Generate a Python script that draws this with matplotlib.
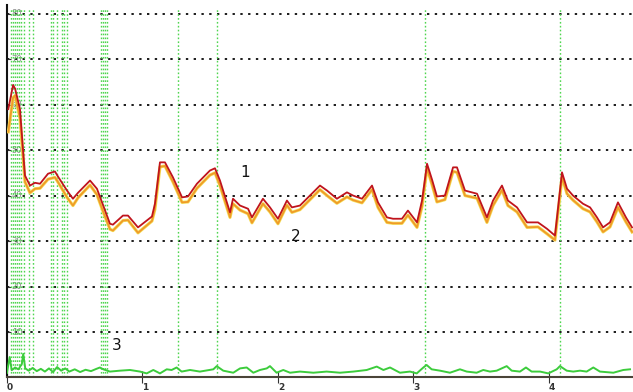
import matplotlib.pyplot as plt
from matplotlib import patheffects

# time axis (s) shared by traces 1 and 2
t = [0.010, 0.045, 0.060, 0.096, 0.133, 0.170, 0.207, 0.244, 0.303, 0.354,
     0.376, 0.443, 0.487, 0.524, 0.613, 0.664, 0.708, 0.760, 0.782, 0.856,
     0.893, 0.967, 1.070, 1.092, 1.129, 1.166, 1.225, 1.292, 1.336, 1.402,
     1.498, 1.535, 1.572, 1.646, 1.668, 1.720, 1.779, 1.808, 1.889, 1.941,
     2.000, 2.066, 2.103, 2.162, 2.236, 2.310, 2.362, 2.435, 2.509, 2.554,
     2.620, 2.694, 2.738, 2.804, 2.849, 2.915, 2.959, 3.026, 3.063, 3.100,
     3.137, 3.173, 3.232, 3.292, 3.321, 3.380, 3.469, 3.542, 3.587, 3.653,
     3.697, 3.764, 3.838, 3.919, 3.985, 4.044, 4.096, 4.133, 4.177, 4.251,
     4.303, 4.354, 4.399, 4.450, 4.509, 4.568, 4.613]

trace1 = [59.0, 64.3, 63.5, 59.0, 44.4, 42.2, 42.8, 42.6, 44.8, 45.3,
          44.2, 41.1, 39.3, 40.6, 43.3, 41.5, 38.0, 33.8, 33.6, 35.6,
          35.6, 33.0, 35.4, 38.2, 47.3, 47.3, 44.0, 39.6, 39.8, 42.6,
          45.5, 46.0, 43.3, 36.3, 39.3, 37.8, 37.1, 35.2, 39.3, 37.4,
          34.9, 38.9, 37.4, 37.8, 40.0, 42.2, 41.1, 39.3, 40.7, 40.0,
          39.3, 42.2, 38.5, 35.2, 34.9, 34.9, 36.7, 34.1, 38.9, 47.0,
          43.5, 39.8, 40.0, 46.2, 46.2, 41.1, 40.4, 35.2, 38.9, 42.2,
          38.9, 37.4, 34.1, 34.1, 32.7, 31.2, 45.1, 41.5, 40.0, 38.2,
          37.4, 35.2, 33.0, 34.1, 38.5, 35.2, 33.0]

trace2 = [54.0, 61.5, 62.0, 57.0, 43.0, 40.6, 41.5, 41.6, 43.6, 44.0,
          43.0, 39.6, 37.8, 39.5, 42.3, 40.2, 36.6, 32.6, 32.3, 34.5,
          34.6, 31.8, 34.4, 37.0, 46.3, 46.5, 43.0, 38.5, 38.6, 41.6,
          44.5, 45.0, 42.2, 35.2, 38.2, 36.8, 36.0, 34.0, 38.2, 36.4,
          33.8, 37.9, 36.3, 36.9, 39.1, 41.3, 40.0, 38.3, 39.7, 39.0,
          38.4, 41.3, 37.4, 34.1, 33.9, 33.9, 35.7, 33.0, 37.6, 46.0,
          42.4, 38.6, 39.1, 45.3, 45.1, 40.0, 39.4, 34.1, 37.8, 41.2,
          37.8, 36.4, 33.0, 33.1, 31.6, 30.2, 44.0, 40.4, 39.0, 37.1,
          36.4, 34.2, 32.0, 33.1, 37.4, 34.2, 32.0]

t3 = [0.000, 0.020, 0.035, 0.060, 0.085, 0.110, 0.120, 0.135, 0.160, 0.190,
      0.220, 0.250, 0.280, 0.310, 0.340, 0.370, 0.400, 0.430, 0.460, 0.500,
      0.540, 0.580, 0.620, 0.660, 0.686, 0.711, 0.760, 0.834, 0.908, 0.982,
      1.031, 1.080, 1.129, 1.179, 1.215, 1.252, 1.289, 1.351, 1.424, 1.523,
      1.548, 1.596, 1.670, 1.720, 1.769, 1.818, 1.867, 1.917, 1.941, 1.990,
      2.039, 2.089, 2.162, 2.261, 2.359, 2.458, 2.556, 2.655, 2.729, 2.778,
      2.827, 2.900, 2.974, 3.024, 3.073, 3.097, 3.134, 3.196, 3.269, 3.343,
      3.393, 3.466, 3.515, 3.565, 3.614, 3.688, 3.725, 3.786, 3.830, 3.872,
      3.934, 3.995, 4.057, 4.081, 4.106, 4.131, 4.179, 4.229, 4.278, 4.327,
      4.376, 4.475, 4.548, 4.598]

trace3 = [1.0, 4.5, 1.6, 2.2, 1.8, 3.0, 5.2, 2.0, 1.5, 2.1,
          1.4, 1.9, 1.3, 2.0, 1.2, 2.3, 1.5, 2.0, 1.3, 1.8,
          1.2, 1.7, 1.4, 1.9, 2.2, 1.8, 1.3, 1.5, 1.65, 1.3,
          0.9, 1.65, 0.9, 1.8, 1.65, 2.2, 1.3, 1.65, 1.3, 1.8,
          2.5, 1.5, 1.05, 2.0, 2.2, 1.05, 1.65, 2.0, 2.5, 1.05,
          1.65, 1.05, 1.3, 1.05, 1.3, 1.05, 1.3, 1.65, 2.4, 1.65,
          2.2, 1.05, 1.3, 0.9, 2.2, 2.75, 1.8, 1.5, 1.05, 1.8,
          1.3, 1.05, 1.65, 1.3, 1.5, 2.5, 1.5, 1.3, 2.2, 1.3,
          1.3, 0.9, 1.8, 2.5, 2.0, 1.5, 1.3, 1.5, 1.3, 2.2,
          1.3, 1.05, 1.65, 1.8]

# event markers (s)
events = [0.030, 0.044, 0.059, 0.074, 0.089, 0.103, 0.125, 0.162, 0.192,
          0.325, 0.339, 0.369, 0.406, 0.421, 0.443,
          0.694, 0.708, 0.723, 0.738, 1.262, 1.550, 3.085, 4.081]

yticks = [10, 20, 30, 40, 50, 60, 70, 80]
xticks = [0, 1, 2, 3, 4]

fig = plt.figure(figsize=(6.33, 3.92), dpi=100)
ax = fig.add_axes([0.011, 0.037, 0.989, 0.9515])
ax.set_xlim(0, 4.62)
ax.set_ylim(0, 82)

for y in yticks:
    ax.axhline(y, color='#1a1a1a', lw=1.4, ls=(0, (1.2, 2.8)), zorder=1)
for x in events:
    ax.plot([x, x], [0, 81], color='#4fd64f', lw=1.0, ls=(0, (1.2, 1.6)), zorder=2)

ax.plot(t, trace2, color='#f09a28', lw=1.3, zorder=3,
        path_effects=[patheffects.Stroke(linewidth=2.3, foreground='#f4e05a'),
                      patheffects.Normal()])
ax.plot(t, trace1, color='#c0141c', lw=1.3, zorder=4)
ax.plot(t3, trace3, color='#3ccc3c', lw=1.4, zorder=4)

ax.text(1.757, 45.0, '1', fontsize=11, ha='center', va='center', color='#111')
ax.text(2.133, 31.0, '2', fontsize=11, ha='center', va='center', color='#111')
ax.text(0.812, 7.0, '3', fontsize=11, ha='center', va='center', color='#111')

for s in ['top', 'right']:
    ax.spines[s].set_visible(False)
ax.spines['left'].set_color('#111111')
ax.spines['left'].set_linewidth(1.5)
ax.spines['left'].set_bounds(0, 82)
ax.spines['bottom'].set_color('#4a4438')
ax.spines['bottom'].set_linewidth(1.5)

ax.set_yticks(yticks)
ax.set_yticklabels([str(v) for v in yticks], fontsize=6, color='#8a8a8a')
ax.tick_params(axis='y', direction='in', length=3, pad=-11, colors='#333')
for lab in ax.get_yticklabels():
    lab.set_color('#8a8a8a')
    lab.set_verticalalignment('center')

ax.set_xticks(xticks)
ax.set_xticklabels([str(v) for v in xticks], fontsize=6.5, fontweight='bold')
ax.tick_params(axis='x', direction='inout', length=8, pad=0, colors='#333')
for lab in ax.get_xticklabels():
    lab.set_horizontalalignment('left')

fig.savefig('out.png', dpi=100)
